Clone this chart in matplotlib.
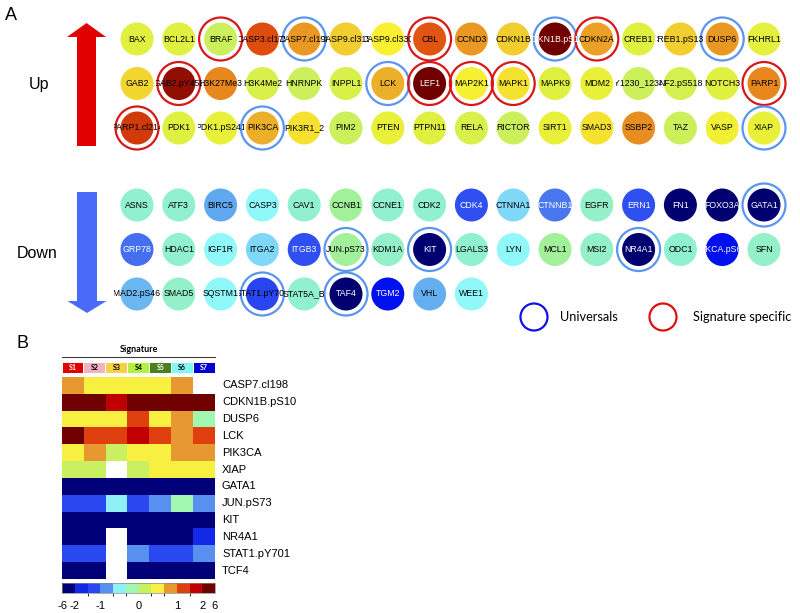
import numpy as np
import matplotlib
matplotlib.use("Agg")
import matplotlib.pyplot as plt
from matplotlib.colors import LinearSegmentedColormap, ListedColormap, BoundaryNorm, Normalize
from matplotlib.patches import Circle, Rectangle, FancyArrow
from matplotlib.cm import ScalarMappable

plt.rcParams['font.family'] = ['Liberation Sans', 'DejaVu Sans']

# ---------------- Panel A data ----------------
up_rows = [
    ["BAX", "BCL2L1", "BRAF", "CASP3.cl175", "CASP7.cl198", "CASP9.cl315", "CASP9.cl330", "CBL",
     "CCND3", "CDKN1B", "CDKN1B.pS10", "CDKN2A", "CREB1", "CREB1.pS133", "DUSP6", "FKHRL1"],
    ["GAB2", "GAB2.pY452", "H3K27Me3", "H3K4Me2", "HNRNPK", "INPPL1", "LCK", "LEF1",
     "MAP2K1", "MAPK1", "MAPK9", "MDM2", "MET.pY1230_1234_1235", "NF2.pS518", "NOTCH3", "PARP1"],
    ["PARP1.cl214", "PDK1", "PDK1.pS241", "PIK3CA", "PIK3R1_2", "PIM2", "PTEN", "PTPN11",
     "RELA", "RICTOR", "SIRT1", "SMAD3", "SSBP2", "TAZ", "VASP", "XIAP"],
]
up_scores = [
    [0.20, 0.20, 0.07, 0.75, 0.60, 0.48, 0.35, 0.74, 0.60, 0.48, 1.00, 0.58, 0.20, 0.47, 0.60, 0.22],
    [0.45, 0.94, 0.64, 0.15, 0.07, 0.15, 0.55, 1.00, 0.33, 0.40, 0.20, 0.25, 0.07, 0.12, 0.20, 0.64],
    [0.80, 0.20, 0.25, 0.55, 0.40, 0.07, 0.25, 0.20, 0.15, 0.07, 0.25, 0.40, 0.62, 0.07, 0.30, 0.25],
]
down_rows = [
    ["ASNS", "ATF3", "BIRC5", "CASP3", "CAV1", "CCNB1", "CCNE1", "CDK2",
     "CDK4", "CTNNA1", "CTNNB1", "EGFR", "ERN1", "FN1", "FOXO3A", "GATA1"],
    ["GRP78", "HDAC1", "IGF1R", "ITGA2", "ITGB3", "JUN.pS73", "KDM1A", "KIT",
     "LGALS3", "LYN", "MCL1", "MSI2", "NR4A1", "ODC1", "PRKCA.pS657", "SFN"],
    ["SMAD2.pS465", "SMAD5", "SQSTM1", "STAT1.pY701", "STAT5A_B", "TAF4", "TGM2", "VHL", "WEE1"],
]
down_scores = [
    [-0.10, -0.10, -0.45, -0.20, -0.10, 0.00, -0.10, -0.10, -0.70, -0.35, -0.55, -0.08, -0.70, -1.00, -1.00, -1.00],
    [-0.58, -0.10, -0.20, -0.35, -0.70, 0.00, -0.08, -1.00, -0.10, -0.20, 0.00, -0.08, -1.00, -0.10, -0.85, -0.08],
    [-0.42, -0.08, -0.20, -0.72, -0.10, -1.00, -0.85, -0.43, -0.20],
]
universals = ["CASP7.cl198", "CDKN1B.pS10", "DUSP6", "LCK", "PIK3CA", "XIAP",
              "GATA1", "JUN.pS73", "KIT", "NR4A1", "STAT1.pY701", "TAF4"]
signature_specific = ["BRAF", "CBL", "CDKN2A", "GAB2.pY452", "LEF1", "MAP2K1", "MAPK1",
                      "PARP1", "PARP1.cl214"]
dark_text_on_dark = ["STAT1.pY701", "GAB2.pY452"]

# ---------------- Panel B data ----------------
hm_genes = ["CASP7.cl198", "CDKN1B.pS10", "DUSP6", "LCK", "PIK3CA", "XIAP",
            "GATA1", "JUN.pS73", "KIT", "NR4A1", "STAT1.pY701", "TCF4"]
signatures = ["S1", "S2", "S3", "S4", "S5", "S6", "S7"]
signature_colors = ["#e00000", "#f0b4c0", "#f8d040", "#b4f040", "#4a8020", "#80f8f8", "#0000d0"]
nan = np.nan
hm_values = np.array([
    [0.8, 0.4, 0.4, 0.4, 0.4, 0.8, nan],
    [3.0, 3.0, 1.8, 3.0, 3.0, 3.0, 3.0],
    [0.4, 0.4, 0.4, 1.2, 0.4, 0.8, -0.1],
    [3.0, 1.2, 1.2, 1.8, 1.2, 0.8, 1.2],
    [0.4, 0.8, 0.1, 0.4, 0.4, 0.8, 0.8],
    [0.1, 0.1, nan, 0.1, 0.4, 0.4, 0.4],
    [-3.0, -3.0, -3.0, -3.0, -3.0, -3.0, -3.0],
    [-1.2, -1.2, -0.4, -1.2, -0.8, -0.1, -0.8],
    [-3.0, -3.0, -3.0, -3.0, -3.0, -3.0, -3.0],
    [-3.0, -3.0, nan, -3.0, -3.0, -3.0, -1.8],
    [-1.2, -1.2, nan, -0.8, -1.2, -1.2, -0.8],
    [-3.0, -3.0, nan, -3.0, -3.0, -3.0, -3.0],
])
hm_bounds = [-6, -2, -1.5, -1, -0.5, -0.25, 0, 0.25, 0.5, 1, 1.5, 2, 6]
hm_ticks = [-6, -2, -1, 0, 1, 2, 6]

# ---------------- colormaps ----------------
node_cmap = LinearSegmentedColormap.from_list("node", [
    (0.000, "#000070"), (0.075, "#0010f0"), (0.150, "#3050f0"), (0.225, "#4878f0"),
    (0.275, "#60a8f0"), (0.325, "#80d8f8"), (0.400, "#90f8f8"), (0.450, "#90f0d0"),
    (0.500, "#a0f0a0"), (0.525, "#c8f060"), (0.600, "#e0f040"), (0.675, "#f8f030"),
    (0.750, "#f0c830"), (0.810, "#e89020"), (0.875, "#e05010"), (0.935, "#c02000"),
    (1.000, "#700000")])
node_norm = Normalize(-1, 1)

hm_cmap = ListedColormap(["#000078", "#1428e8", "#2a48f0", "#5890f0", "#90f0f8", "#a0f8b0",
                          "#c8f060", "#f8f040", "#e89830", "#e04010", "#c00000", "#700000"])
hm_cmap.set_bad("white")
hm_norm = BoundaryNorm(hm_bounds, hm_cmap.N)

# ---------------- figure ----------------
fig = plt.figure(figsize=(8, 6.13), dpi=100)
ax = fig.add_axes([0, 0, 1, 1])
ax.set_xlim(0, 800)
ax.set_ylim(613, 0)
ax.axis("off")

X0, DX, DY, R, RING = 137, 41.8, 44.5, 16.5, 21.5


def draw_nodes(rows, scores, y0):
    for r, (names, vals) in enumerate(zip(rows, scores)):
        for c, (name, v) in enumerate(zip(names, vals)):
            x = X0 + c * DX
            y = y0 + r * DY
            ax.add_patch(Circle((x, y), R, facecolor=node_cmap(node_norm(v)), lw=0, zorder=2))
            if name in universals:
                ax.add_patch(Circle((x, y), RING, fill=False, ec="#5a96f0", lw=1.6, zorder=3))
            elif name in signature_specific:
                ax.add_patch(Circle((x, y), RING, fill=False, ec="#d81818", lw=1.6, zorder=3))
            light = (v <= -0.55 or v >= 0.96) and name not in dark_text_on_dark
            tc = "white" if light else "black"
            t = ax.text(x, y, name, ha="center", va="center", fontsize=6.3, color=tc, zorder=4)
            clip = Rectangle((x - 23, y - 10), 46, 20, transform=ax.transData)
            t.set_clip_path(clip)
            t.set_clip_on(True)


draw_nodes(up_rows, up_scores, 39)
draw_nodes(down_rows, down_scores, 205)

# arrows
ax.add_patch(FancyArrow(86.5, 146, 0, -123, width=19, head_width=39, head_length=14,
                        length_includes_head=True, color="#e00000", lw=0))
ax.add_patch(FancyArrow(87, 192, 0, 121, width=20, head_width=39, head_length=12,
                        length_includes_head=True, color="#4a6af8", lw=0))
ax.text(39, 85, "Up", ha="center", va="center", fontsize=11.5)
ax.text(37, 253, "Down", ha="center", va="center", fontsize=11.5)
ax.text(11, 15, "A", ha="center", va="center", fontsize=13)
ax.text(23, 344, "B", ha="center", va="center", fontsize=13)

# legend
ax.add_patch(Circle((534, 317), 13.5, fill=False, ec="#1010e8", lw=1.6))
ax.text(560, 317, "Universals", ha="left", va="center", fontsize=9.2, family="Lato")
ax.add_patch(Circle((663, 317), 13.5, fill=False, ec="#e01010", lw=1.6))
ax.text(693, 317, "Signature specific", ha="left", va="center", fontsize=9.2, family="Lato")

# ---------------- Panel B ----------------
HL, HR, HT, HB = 62, 215, 377, 579
ax.imshow(hm_values, cmap=hm_cmap, norm=hm_norm, extent=(HL, HR, HB, HT),
          aspect="auto", interpolation="nearest", zorder=2)
rh = (HB - HT) / len(hm_genes)
cw = (HR - HL) / len(signatures)
for i, g in enumerate(hm_genes):
    ax.text(222, HT + (i + 0.5) * rh, g, ha="left", va="center", fontsize=8)

ax.text((HL + HR) / 2, 350, "Signature", ha="center", va="center", fontsize=6.5,
        fontweight="bold", family="Lato")
ax.plot([HL, HR], [357, 357], color="#404040", lw=0.8)
for j, (s, col) in enumerate(zip(signatures, signature_colors)):
    ax.add_patch(Rectangle((HL + j * cw + 0.5, 363), cw - 1, 10, facecolor=col, lw=0))
    tcol = "white" if s in ("S1", "S5", "S7") else "black"
    ax.text(HL + (j + 0.5) * cw, 368, s, ha="center", va="center", fontsize=5,
            fontweight="bold", color=tcol, family="Lato")

cax = fig.add_axes([HL / 800, 1 - 593 / 613, (HR - HL) / 800, 10 / 613])
cb = fig.colorbar(ScalarMappable(norm=hm_norm, cmap=hm_cmap), cax=cax,
                  orientation="horizontal", spacing="uniform", ticks=hm_ticks)
cb.ax.set_xticklabels([str(t) for t in hm_ticks])
cb.ax.tick_params(length=0, labelsize=8, pad=6)
cb.outline.set_linewidth(0.5)
cb.outline.set_edgecolor("#888888")

fig.savefig("out.png", dpi=100)
